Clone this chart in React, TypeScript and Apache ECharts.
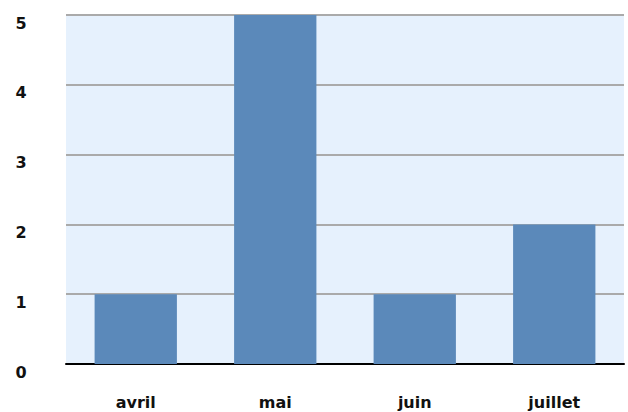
import React, { useEffect, useRef } from "react";
import * as echarts from "echarts";

const categories = ["avril", "mai", "juin", "juillet"];
const values = [1, 5, 1, 2];
const yTicks = [0, 1, 2, 3, 4, 5];

export default function App() {
  const ref = useRef<HTMLDivElement>(null);
  useEffect(() => {
    document.body.style.margin = "0";
    const chart = echarts.init(ref.current!, null, { renderer: "svg" });
    const font = "'Comic Sans MS', 'DejaVu Sans', sans-serif";
    chart.setOption({
      animation: false,
      grid: {
        left: 66,
        right: 4,
        top: 15,
        bottom: 48,
        show: true,
        backgroundColor: "#e6f1fd",
        borderWidth: 0,
      },
      xAxis: {
        type: "category",
        data: categories,
        axisLine: { show: true, lineStyle: { color: "#000", width: 2 } },
        axisTick: { show: false },
        axisLabel: {
          margin: 30,
          color: "#111",
          fontFamily: font,
          fontWeight: "bold",
          fontSize: 16,
        },
      },
      yAxis: {
        type: "value",
        min: yTicks[0],
        max: yTicks[yTicks.length - 1],
        interval: 1,
        axisLine: { show: false },
        axisTick: { show: false },
        splitLine: { lineStyle: { color: "#aaaaaa", width: 2 } },
        axisLabel: {
          margin: 45,
          align: "center",
          verticalAlign: "top",
          color: "#111",
          fontFamily: font,
          fontWeight: "bold",
          fontSize: 16,
        },
      },
      series: [
        {
          type: "bar",
          data: values,
          barWidth: "59%",
          itemStyle: { color: "#5b89ba" },
        },
      ],
    });
    return () => chart.dispose();
  }, []);
  return <div ref={ref} style={{ width: 628, height: 412 }} />;
}
